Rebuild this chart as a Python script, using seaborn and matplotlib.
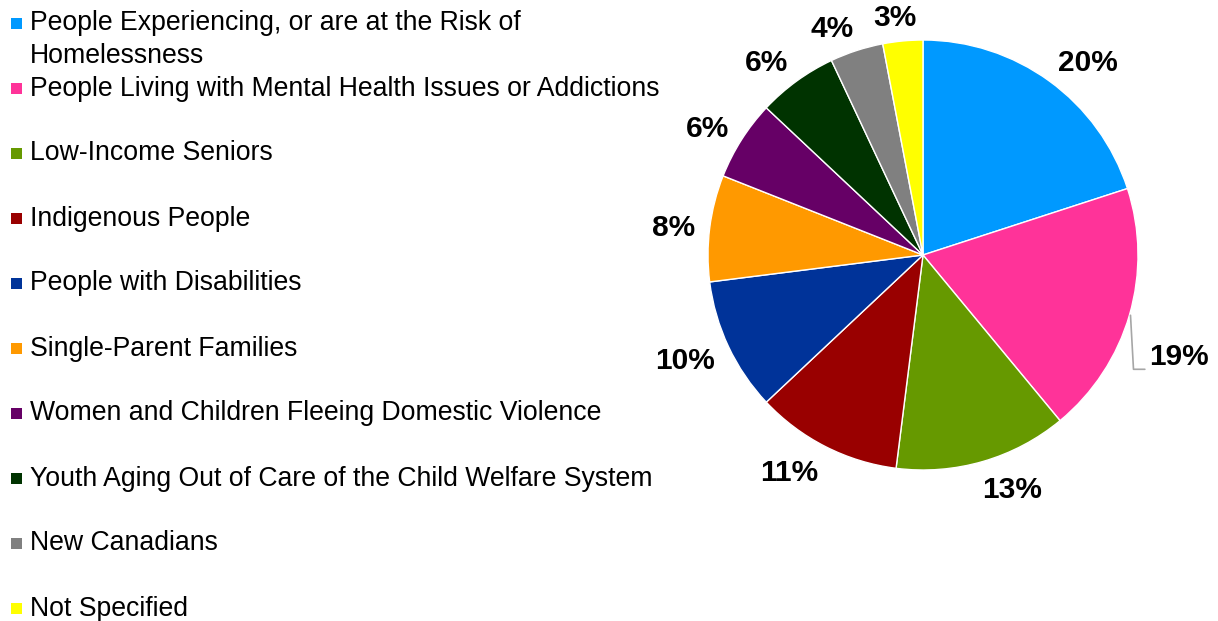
import matplotlib
matplotlib.use('Agg')
import matplotlib.pyplot as plt
import seaborn as sns
import numpy as np
from matplotlib.patches import Rectangle

categories = [
    "People Experiencing, or are at the Risk of\nHomelessness",
    "People Living with Mental Health Issues or Addictions",
    "Low-Income Seniors",
    "Indigenous People",
    "People with Disabilities",
    "Single-Parent Families",
    "Women and Children Fleeing Domestic Violence",
    "Youth Aging Out of Care of the Child Welfare System",
    "New Canadians",
    "Not Specified",
]
values = [20, 19, 13, 11, 10, 8, 6, 6, 4, 3]
colors = ['#0099FF', '#FF3399', '#669900', '#990000', '#003399',
          '#FF9900', '#660066', '#003300', '#808080', '#FFFF00']

sns.set_theme(style='white')
plt.rcParams['font.family'] = ['Liberation Sans', 'DejaVu Sans']

W, H = 1218, 621
fig = plt.figure(figsize=(W / 100, H / 100), dpi=100)
fig.patch.set_facecolor('white')

cx, cy, r = 923, 255, 215
ax = fig.add_axes([(cx - r) / W, 1 - (cy + r) / H, 2 * r / W, 2 * r / H])
palette = sns.color_palette(colors)
wedges, texts, autotexts = ax.pie(
    values, colors=palette, startangle=90, counterclock=False,
    autopct=lambda p: f'{p:.0f}%', pctdistance=1.2,
    wedgeprops=dict(edgecolor='white', linewidth=1),
    textprops=dict(fontsize=21.5, fontweight='bold', color='black'))
ax.set_xlim(-1, 1)
ax.set_ylim(-1, 1)
ax.set_aspect('equal')
ax.axis('off')

fig.canvas.draw()
renderer = fig.canvas.get_renderer()
gap = 15.0
for i, (w, t) in enumerate(zip(wedges, autotexts)):
    mid = np.deg2rad((w.theta1 + w.theta2) / 2)
    bb = t.get_window_extent(renderer)
    bw, bh = bb.width, bb.height * 0.8
    c, s = np.cos(mid), np.sin(mid)
    px = (r + gap) * c + bw / 2 * np.clip(3 * c, -1, 1)
    py = (r + gap) * s + bh / 2 * s - 3
    if i == 1:
        # label moved down with a leader line
        start = np.array([c, s]) * 1.005
        lx, ly = px + 5, py - 32
        ax.plot([start[0], start[0] + 3 / r, lx / r - bw / 2 / r - 4 / r],
                [start[1], (ly - 12) / r, (ly - 12) / r],
                color='#A6A6A6', lw=1.2, clip_on=False)
        px, py = lx, ly
    t.set_position((px / r, py / r))
    t.set_ha('center')
    t.set_va('center')

# legend
x_sq, x_txt = 11 / W, 30 / W
y0, step = 22, 65
for i, (lab, col) in enumerate(zip(categories, palette)):
    yc = y0 + i * step
    fig.add_artist(Rectangle((x_sq, 1 - (yc + 7) / H), 11 / W, 11 / H,
                             transform=fig.transFigure, facecolor=col,
                             edgecolor='none'))
    fig.text(x_txt, 1 - (yc - 11.5) / H, lab, fontsize=19.2, color='black',
             ha='left', va='top', linespacing=1.32)

fig.savefig('out.png', dpi=100, facecolor='white')
